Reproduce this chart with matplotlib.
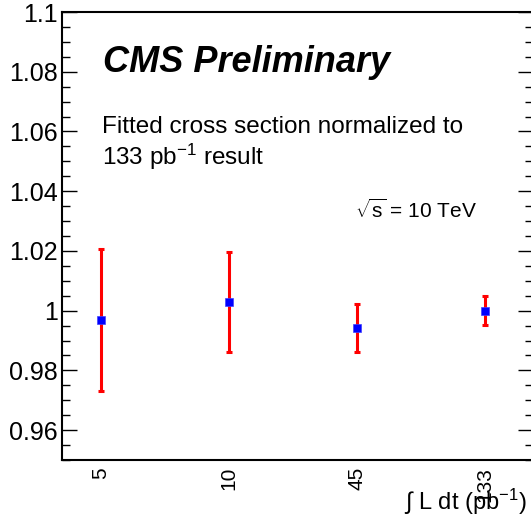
import numpy as np
from matplotlib import pyplot as plt
from matplotlib.ticker import MultipleLocator, FuncFormatter

# integrated luminosity samples (pb^-1) and fitted cross section ratio
lumi_labels = ["5", "10", "45", "133"]
ratio = [0.9968, 1.0028, 0.9941, 1.0000]
ratio_err = [0.0237, 0.0168, 0.0080, 0.0048]

plt.rcParams["font.family"] = ["Liberation Sans", "DejaVu Sans"]
plt.rcParams["mathtext.fontset"] = "custom"
plt.rcParams["mathtext.rm"] = "Liberation Sans"
plt.rcParams["mathtext.it"] = "Liberation Sans:italic"
plt.rcParams["mathtext.bf"] = "Liberation Sans:bold"

W, H = 531, 529
fig = plt.figure(figsize=(W / 100, H / 100), dpi=100)
ax = fig.add_axes([62 / W, 1 - 460 / H, (533 - 62) / W, (460 - 12) / H])

x = np.arange(len(lumi_labels))
ax.errorbar(x, ratio, yerr=ratio_err, fmt="none", ecolor="#ff0000",
            elinewidth=2.2, capsize=2, capthick=2.2, zorder=2)
ax.plot(x, ratio, "s", color="#0000ff", markersize=5.5,
        markeredgecolor="#4040ff", markeredgewidth=0.5, zorder=3)

ax.set_xlim(-0.305, 3.375)
ax.set_ylim(0.95, 1.1)
ax.set_xticks(x)
ax.set_xticklabels(lumi_labels, rotation=90, fontsize=15)
ax.tick_params(axis="x", length=0, pad=5)

ax.yaxis.set_major_locator(MultipleLocator(0.02))
ax.yaxis.set_minor_locator(MultipleLocator(0.005))
ax.yaxis.set_major_formatter(FuncFormatter(lambda v, p: f"{v:.2f}".rstrip("0").rstrip(".")))
ax.tick_params(axis="y", which="both", direction="in", left=True, right=True,
               labelsize=18, pad=3)
ax.tick_params(axis="y", which="major", length=11, width=1)
ax.tick_params(axis="y", which="minor", length=5.8, width=1)
for s in ax.spines.values():
    s.set_linewidth(1.5)

fig.text(103 / W, 1 - 72 / H, "CMS Preliminary", fontsize=26,
         fontweight="bold", fontstyle="italic", va="baseline")
fig.text(102 / W, 1 - 133 / H, "Fitted cross section normalized to",
         fontsize=17.5, va="baseline")
fig.text(102 / W, 1 - 165 / H, "133 pb$^{-1}$ result", fontsize=17.5, va="baseline")
fig.text(355 / W, 1 - 218 / H, r"$\sqrt{\rm s}$ = 10 TeV", fontsize=15, va="baseline")
fig.text(527 / W, 1 - 502 / H, r"$\int$ L dt (pb$^{-1}$)", fontsize=17,
         ha="right", va="center")

fig.savefig("out.png", dpi=100)
